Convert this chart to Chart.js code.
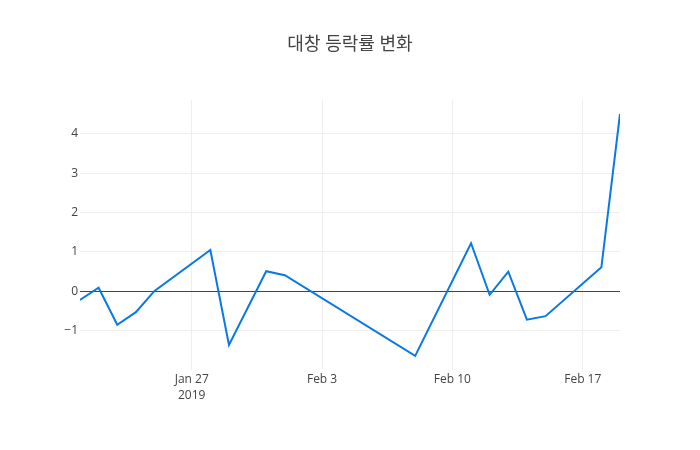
<!DOCTYPE html>
<html>
<head>
<meta charset="utf-8">
<script src="https://cdn.jsdelivr.net/npm/chart.js@4/dist/chart.umd.min.js"></script>
<style>
html,body{margin:0;padding:0;background:#fff;}
#wrap{width:700px;height:450px;position:relative;}
</style>
</head>
<body>
<div id="wrap"><canvas id="c" width="700" height="450"></canvas></div>
<script>
const titleText = '대창 등락률 변화';
const dates = ['2019-01-21','2019-01-22','2019-01-23','2019-01-24','2019-01-25','2019-01-28','2019-01-29','2019-01-31','2019-02-01','2019-02-08','2019-02-11','2019-02-12','2019-02-13','2019-02-14','2019-02-15','2019-02-18','2019-02-19'];
const changes = [-0.22, 0.09, -0.85, -0.53, 0.01, 1.05, -1.36, 0.51, 0.41, -1.64, 1.22, -0.09, 0.50, -0.72, -0.63, 0.61, 4.50];
const xTickDates = ['2019-01-27','2019-02-03','2019-02-10','2019-02-17'];
const xTickLabels = [['Jan 27','2019'],['Feb 3'],['Feb 10'],['Feb 17']];
const yTicks = [-1, 0, 1, 2, 3, 4];
const xStart = '2019-01-21';
const xEnd = '2019-02-19';

const DAY = 86400000;
const t0 = Date.parse(xStart + 'T00:00:00Z');
const toDay = d => (Date.parse(d + 'T00:00:00Z') - t0) / DAY;
const points = dates.map((d, i) => ({x: toDay(d), y: changes[i]}));
const xTickVals = xTickDates.map(toDay);

const font = "'Open Sans', 'Noto Sans CJK KR', sans-serif";

new Chart(document.getElementById('c'), {
  type: 'line',
  data: {
    datasets: [{
      data: points,
      borderColor: '#0a78e6',
      borderWidth: 2,
      pointRadius: 0,
      tension: 0,
      fill: false
    }]
  },
  options: {
    responsive: false,
    animation: false,
    layout: {padding: 0},
    plugins: {
      legend: {display: false},
      tooltip: {enabled: false},
      title: {
        display: true,
        text: titleText,
        color: '#444',
        font: {family: font, size: 18, weight: 'normal'},
        padding: {top: 34.2, bottom: 44.2}
      }
    },
    scales: {
      x: {
        type: 'linear',
        min: 0,
        max: toDay(xEnd),
        afterBuildTicks: s => { s.ticks = xTickVals.map(v => ({value: v})); },
        afterFit: s => { s.height = 80; },
        border: {display: false},
        grid: {color: '#eee', lineWidth: 1, drawTicks: false},
        ticks: {
          padding: 2,
          color: '#444',
          font: {family: font, size: 12, lineHeight: 1.3},
          maxRotation: 0,
          autoSkip: false,
          callback: (v) => { const i = xTickVals.indexOf(v); return i >= 0 ? xTickLabels[i] : ''; }
        }
      },
      y: {
        type: 'linear',
        min: -1.997,
        max: 4.855,
        afterBuildTicks: s => { s.ticks = yTicks.map(v => ({value: v})); },
        afterFit: s => { s.width = 80; },
        border: {display: false},
        grid: {
          color: c => (c.tick && c.tick.value === 0) ? '#444' : '#eee',
          lineWidth: 1,
          drawTicks: false
        },
        ticks: {
          padding: 2,
          color: '#444',
          font: {family: font, size: 12},
          callback: v => v < 0 ? '\u2212' + Math.abs(v) : String(v)
        }
      },
      yRightMargin: {
        type: 'linear',
        position: 'right',
        min: 0,
        max: 1,
        afterFit: s => { s.width = 80; },
        border: {display: false},
        grid: {display: false, drawTicks: false},
        ticks: {display: false}
      }
    }
  }
});
</script>
</body>
</html>
